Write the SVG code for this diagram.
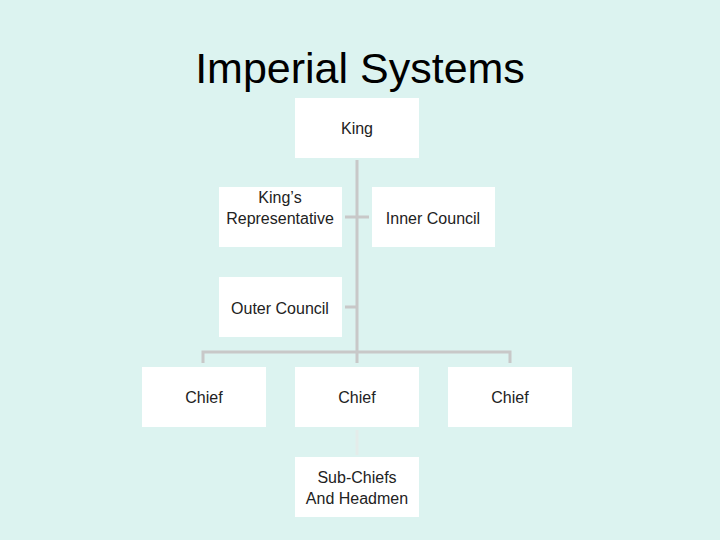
<svg xmlns="http://www.w3.org/2000/svg" width="720" height="540" viewBox="0 0 720 540">
<style>
.n{fill:#fff}
.t{font-family:"Liberation Sans",Arial,sans-serif;font-size:16px;fill:#222;text-anchor:middle}
.c{stroke:#c8c8c8;stroke-width:3;fill:none}
</style>
<rect width="720" height="540" fill="#dcf3f0"/>
<text x="360" y="83" font-family="Liberation Sans,Arial,sans-serif" font-size="43" fill="#000" text-anchor="middle">Imperial Systems</text>
<g id="connectors">
<path class="c" d="M357 160V352M203 363V352H510V363M357 352V363M345 217H369M345 307H357"/>
<path d="M357 430V455" stroke="#e4ecea" stroke-width="3"/>
</g>
<g id="king"><rect class="n" x="295" y="98" width="124" height="60"/><text class="t" x="357" y="134">King</text></g>
<g id="rep"><rect class="n" x="219" y="187" width="123" height="60"/><text class="t" x="280" y="203">King’s</text><text class="t" x="280" y="224">Representative</text></g>
<g id="inner"><rect class="n" x="372" y="187" width="123" height="60"/><text class="t" x="433" y="224">Inner Council</text></g>
<g id="outer"><rect class="n" x="219" y="277" width="123" height="60"/><text class="t" x="280" y="314">Outer Council</text></g>
<g id="chief1"><rect class="n" x="142" y="367" width="124" height="60"/><text class="t" x="204" y="403">Chief</text></g>
<g id="chief2"><rect class="n" x="295" y="367" width="124" height="60"/><text class="t" x="357" y="403">Chief</text></g>
<g id="chief3"><rect class="n" x="448" y="367" width="124" height="60"/><text class="t" x="510" y="403">Chief</text></g>
<g id="sub"><rect class="n" x="295" y="457" width="124" height="60"/><text class="t" x="357" y="483">Sub-Chiefs</text><text class="t" x="357" y="504">And Headmen</text></g>
</svg>
